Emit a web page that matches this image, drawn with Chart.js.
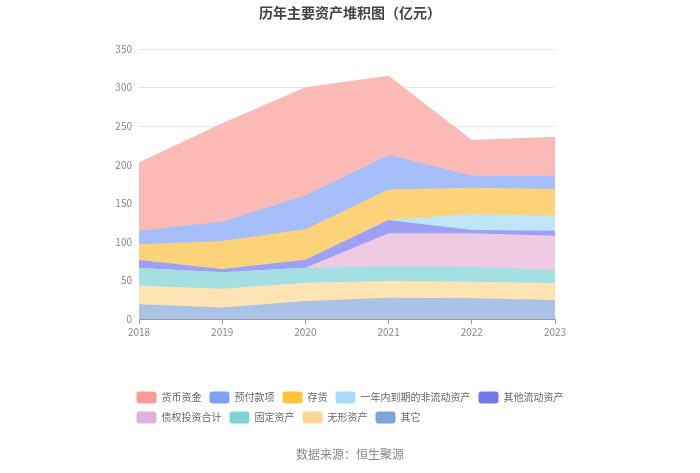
<!DOCTYPE html>
<html>
<head>
<meta charset="utf-8">
<script src="https://cdn.jsdelivr.net/npm/chart.js@4/dist/chart.umd.min.js"></script>
<style>
  html, body { margin: 0; padding: 0; background: #ffffff; }
  #wrap { width: 700px; height: 473px; }
</style>
</head>
<body>
<div id="wrap"><canvas id="c" width="700" height="473"></canvas></div>
<script>
// ---- data (亿元) ----
const years = ['2018', '2019', '2020', '2021', '2022', '2023'];
const seriesNames = ['其它', '无形资产', '固定资产', '债权投资合计', '其他流动资产', '一年内到期的非流动资产', '存货', '预付款项', '货币资金'];
const other        = [19.0, 15.0, 23.3, 27.6, 26.8, 24.6];
const intangible   = [24.0, 24.3, 23.7, 21.7, 21.6, 21.6];
const fixedAssets  = [23.0, 21.2, 19.5, 19.2, 19.4, 17.3];
const debtInvest   = [0, 0, 0, 42.5, 43.2, 44.5];
const otherCurrent = [10.5, 4.3, 10.4, 17.3, 4.4, 6.5];
const dueInOneYear = [0, 0, 0, 0, 20.6, 19.5];
const inventory    = [20.5, 36.2, 39.3, 39.7, 34.3, 34.5];
const prepayments  = [17.5, 25.0, 44.0, 44.6, 15.5, 17.3];
const cash         = [88.5, 127.6, 140.3, 102.8, 46.2, 50.5];
const yTicks = [0, 50, 100, 150, 200, 250, 300, 350];

const seriesValues = [other, intangible, fixedAssets, debtInvest, otherCurrent, dueInOneYear, inventory, prepayments, cash];
const areaColors   = ['#A9C2E5', '#FEE3B5', '#A4E0E1', '#EFCBE3', '#9EA0F5', '#BEE6F8', '#FDD37A', '#A6BFFB', '#FBBAB5'];
const legendColors = ['#7FA4DA', '#FFD596', '#7ED3D4', '#DFB3D9', '#7277ED', '#A6DCF8', '#FFC43E', '#7FA1F6', '#FB9C96'];

Chart.defaults.font.family = '"Noto Sans CJK SC", "Noto Sans", sans-serif';

const datasets = seriesNames.map((name, i) => ({
  label: name,
  data: seriesValues[i],
  backgroundColor: areaColors[i],
  borderColor: 'rgba(0,0,0,0)',
  borderWidth: 0,
  pointRadius: 0,
  pointHoverRadius: 0,
  tension: 0,
  fill: 'origin'
}));

const legendShift = {
  id: 'legendShift',
  afterLayout(chart) {
    const lg = chart.legend;
    if (!lg || !lg.lineWidths) return;
    const pad = lg.options.labels.padding;
    const w = lg.lineWidths[0] - pad;
    lg.left = (chart.width - w) / 2 - pad;
  }
};

new Chart(document.getElementById('c'), {
  type: 'line',
  data: { labels: years, datasets },
  plugins: [legendShift],
  options: {
    responsive: false,
    animation: false,
    layout: { padding: { left: 110, right: 110, top: 0, bottom: 0 } },
    plugins: {
      title: {
        display: true,
        text: '历年主要资产堆积图（亿元）',
        color: '#444',
        font: { size: 14, weight: 'bold' },
        padding: { top: 4, bottom: 28.2 }
      },
      subtitle: {
        display: true,
        position: 'bottom',
        text: '数据来源：恒生聚源',
        color: '#888',
        font: { size: 12 },
        padding: { top: 14, bottom: 11 }
      },
      legend: {
        position: 'bottom',
        align: 'start',
        reverse: true,
        labels: {
          boxWidth: 20,
          boxHeight: 12,
          padding: 8,
          color: '#666',
          font: { size: 10 },
          useBorderRadius: true,
          borderRadius: 3,
          generateLabels(chart) {
            const items = Chart.defaults.plugins.legend.labels.generateLabels(chart);
            items.forEach(it => {
              it.fillStyle = legendColors[it.datasetIndex];
              it.strokeStyle = 'rgba(0,0,0,0)';
              it.lineWidth = 0;
            });
            return items;
          }
        }
      },
      tooltip: { enabled: false }
    },
    scales: {
      x: {
        type: 'category',
        offset: false,
        grid: { drawOnChartArea: false, drawTicks: true, tickLength: 5, tickColor: '#999' },
        border: { display: true, color: '#999' },
        ticks: { color: '#888', font: { size: 10 }, padding: 2, maxRotation: 0 },
        afterFit(s) { s.height = 64.6; }
      },
      y: {
        stacked: true,
        min: 0,
        max: 350,
        afterBuildTicks(s) { s.ticks = yTicks.map(v => ({ value: v })); },
        grid: { color: '#E6E6E6', drawTicks: false },
        border: { display: false },
        ticks: { color: '#888', font: { size: 10 }, padding: 7 },
        afterFit(s) { s.width = 29; }
      },
      yRight: {
        position: 'right',
        display: true,
        grid: { display: false },
        border: { display: false },
        ticks: { display: false },
        afterFit(s) { s.width = 35; }
      }
    }
  }
});
</script>
</body>
</html>
